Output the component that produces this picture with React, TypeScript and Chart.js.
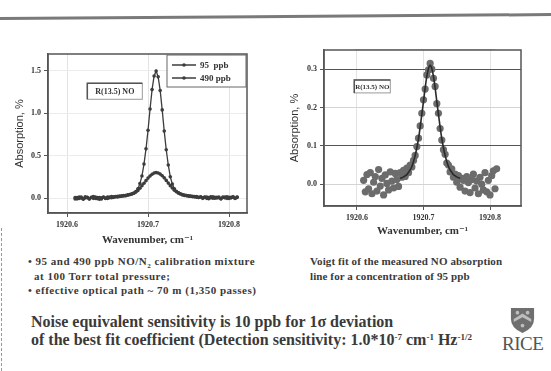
import React, { useEffect, useRef } from "react";
import { Chart, registerables } from "chart.js";
Chart.register(...registerables);

// ---------- data ----------
const WAVENUMBER = [
  1920.61, 1920.6125, 1920.615, 1920.6175, 1920.62, 1920.6225, 1920.625, 1920.6275, 1920.63, 1920.6325,
  1920.635, 1920.6375, 1920.64, 1920.6425, 1920.645, 1920.6475, 1920.65, 1920.6525, 1920.655, 1920.6575,
  1920.66, 1920.6625, 1920.665, 1920.6675, 1920.67, 1920.6725, 1920.675, 1920.6775, 1920.68, 1920.6825,
  1920.685, 1920.6875, 1920.69, 1920.6925, 1920.695, 1920.6975, 1920.7, 1920.7025, 1920.705, 1920.7075,
  1920.71, 1920.7125, 1920.715, 1920.7175, 1920.72, 1920.7225, 1920.725, 1920.7275, 1920.73, 1920.7325,
  1920.735, 1920.7375, 1920.74, 1920.7425, 1920.745, 1920.7475, 1920.75, 1920.7525, 1920.755, 1920.7575,
  1920.76, 1920.7625, 1920.765, 1920.7675, 1920.77, 1920.7725, 1920.775, 1920.7775, 1920.78, 1920.7825,
  1920.785, 1920.7875, 1920.79, 1920.7925, 1920.795, 1920.7975, 1920.8, 1920.8025, 1920.805, 1920.8075,
  1920.81,
];

const PPB95 = [
  -0.012, 0.004, -0.006, 0.01, -0.014, 0.002, 0.008, -0.01, 0.006, -0.004,
  0.012, -0.008, 0.004, -0.012, 0.009, 0.0, -0.006, 0.011, 0.004, 0.014,
  0.016, 0.012, 0.022, 0.02, 0.03, 0.028, 0.038, 0.042, 0.05, 0.058,
  0.072, 0.09, 0.115, 0.145, 0.175, 0.205, 0.235, 0.26, 0.28, 0.295,
  0.3, 0.296, 0.282, 0.262, 0.238, 0.208, 0.176, 0.146, 0.118, 0.092,
  0.074, 0.06, 0.05, 0.042, 0.036, 0.03, 0.026, 0.022, 0.02, 0.014,
  0.016, 0.008, 0.012, 0.002, 0.01, -0.004, 0.006, 0.014, -0.002, 0.008,
  0.0, 0.012, -0.008, 0.006, 0.01, -0.004, 0.009, 0.002, 0.013, -0.006,
  0.008,
];

const PPB490 = [
  0.005, -0.01, 0.012, 0.0, -0.008, 0.015, 0.004, -0.012, 0.008, 0.018,
  -0.004, 0.006, -0.015, 0.002, 0.012, -0.006, 0.01, 0.003, 0.016, 0.008,
  0.014, 0.02, 0.018, 0.026, 0.024, 0.03, 0.034, 0.04, 0.046, 0.057,
  0.075, 0.11, 0.17, 0.26, 0.4, 0.58, 0.8, 1.05, 1.28, 1.44,
  1.5, 1.43, 1.27, 1.04, 0.79, 0.57, 0.39, 0.25, 0.165, 0.11,
  0.078, 0.06, 0.047, 0.036, 0.03, 0.028, 0.022, 0.02, 0.014, 0.016,
  0.01, 0.006, 0.014, -0.004, 0.008, 0.012, -0.008, 0.004, 0.015, -0.002,
  0.009, 0.003, -0.01, 0.011, 0.002, 0.014, -0.006, 0.007, 0.012, -0.003,
  0.01,
];

const MEASURED95 = [
  0.01, -0.02, 0.025, -0.012, 0.03, -0.025, 0.005, 0.02, -0.018, 0.038,
  -0.005, 0.015, -0.028, 0.024, 0.002, -0.015, 0.032, 0.008, -0.01, 0.028,
  0.012, -0.006, 0.03, 0.018, 0.036, 0.02, 0.042, 0.03, 0.05, 0.045,
  0.062, 0.075, 0.098, 0.12, 0.152, 0.185, 0.22, 0.248, 0.285, 0.298,
  0.315, 0.3, 0.276, 0.255, 0.21, 0.185, 0.145, 0.115, 0.09, 0.078,
  0.055, 0.05, 0.032, 0.04, 0.018, 0.026, 0.005, 0.022, -0.008, 0.015,
  0.01, -0.018, 0.02, 0.004, -0.022, 0.012, 0.026, -0.01, 0.008, -0.025,
  0.018, 0.0, -0.015, 0.03, -0.02, 0.01, -0.028, 0.022, 0.035, -0.012,
  0.04,
];

const FIT_WAVENUMBER = [
  1920.665, 1920.6675, 1920.67, 1920.6725, 1920.675, 1920.6775, 1920.68, 1920.6825,
  1920.685, 1920.6875, 1920.69, 1920.6925, 1920.695, 1920.6975, 1920.7, 1920.7025, 1920.705, 1920.7075,
  1920.71, 1920.7125, 1920.715, 1920.7175, 1920.72, 1920.7225, 1920.725, 1920.7275, 1920.73, 1920.7325,
  1920.735, 1920.7375, 1920.74, 1920.7425, 1920.745, 1920.7475, 1920.75, 1920.7525, 1920.755,
];
const VOIGT_FIT = [
  0.015, 0.017, 0.019, 0.022, 0.025, 0.031, 0.037, 0.046,
  0.059, 0.075, 0.095, 0.119, 0.149, 0.182, 0.216, 0.251, 0.281, 0.302,
  0.31, 0.302, 0.281, 0.251, 0.216, 0.182, 0.149, 0.119, 0.095, 0.075,
  0.059, 0.046, 0.037, 0.031, 0.025, 0.022, 0.019, 0.017, 0.015,
];

const X_TICKS = [1920.6, 1920.7, 1920.8];
const LEFT_Y_TICKS = [0.0, 0.5, 1.0, 1.5];
const RIGHT_Y_TICKS = [0.0, 0.1, 0.2, 0.3];
const SERIES_LABELS = ["95  ppb", "490 ppb"];
const LINE_LABEL = "R(13.5) NO";
const X_TITLE = "Wavenumber, cm\u207B\u00B9";
const Y_TITLE = "Absorption, %";

const INK = "#333";
const SERIF = "'Liberation Serif', 'DejaVu Serif', serif";
const SANS = "'Liberation Sans', Arial, sans-serif";

function framePlugin(annot: any, legend: boolean) {
  return {
    id: "frameAndNotes",
    afterDraw(chart: any) {
      const { ctx, chartArea: a } = chart;
      ctx.save();
      ctx.strokeStyle = "#555";
      ctx.lineWidth = 1.5;
      ctx.strokeRect(a.left, a.top, a.right - a.left, a.bottom - a.top);

      // line label box
      const cx = chart.scales.x.getPixelForValue(annot.x);
      const cy = chart.scales.y.getPixelForValue(annot.y);
      const bx = cx - annot.w / 2, by = cy - annot.h / 2;
      ctx.fillStyle = "#fff";
      ctx.fillRect(bx, by, annot.w, annot.h);
      ctx.strokeStyle = "#999";
      ctx.lineWidth = 1;
      ctx.strokeRect(bx, by, annot.w, annot.h);
      ctx.strokeStyle = "#555";
      ctx.lineWidth = 1.5;
      ctx.beginPath();
      ctx.moveTo(bx, by + annot.h);
      ctx.lineTo(bx, by);
      ctx.lineTo(bx + annot.w, by);
      ctx.stroke();
      ctx.fillStyle = INK;
      ctx.font = `bold ${annot.fs}px ${SERIF}`;
      ctx.textAlign = "center";
      ctx.textBaseline = "middle";
      ctx.fillText(LINE_LABEL, cx, cy + 0.5);

      if (legend) {
        const w = 79, h = 32;
        const lx = a.right - w - 1, ly = a.top + 1;
        ctx.fillStyle = "#fff";
        ctx.fillRect(lx, ly, w, h);
        ctx.strokeStyle = "#666";
        ctx.lineWidth = 1;
        ctx.strokeRect(lx, ly, w, h);
        chart.data.datasets.forEach((ds: any, i: number) => {
          const ry = ly + 10 + i * 13;
          ctx.strokeStyle = ds.borderColor;
          ctx.lineWidth = 1.5;
          ctx.beginPath();
          ctx.moveTo(lx + 5, ry);
          ctx.lineTo(lx + 29, ry);
          ctx.stroke();
          ctx.fillStyle = ds.borderColor;
          ctx.beginPath();
          ctx.arc(lx + 17, ry, 1.8, 0, Math.PI * 2);
          ctx.fill();
          ctx.fillStyle = INK;
          ctx.font = `bold 9px ${SERIF}`;
          ctx.textAlign = "left";
          ctx.textBaseline = "middle";
          ctx.fillText(ds.label, lx + 33, ry + 0.5);
        });
      }
      ctx.restore();
    },
  };
}

function baseScales(opts: any) {
  return {
    x: {
      type: "linear",
      min: opts.xmin,
      max: opts.xmax,
      afterBuildTicks: (s: any) => {
        s.ticks = X_TICKS.map((v) => ({ value: v }));
      },
      afterFit: (s: any) => {
        s.height = opts.xh;
      },
      ticks: {
        autoSkip: false,
        maxRotation: 0,
        padding: 3,
        color: INK,
        font: { family: SERIF, size: 8, weight: "bold" },
        callback: (v: any) => Number(v).toFixed(1),
      },
      grid: { color: "#e3e3e3", tickLength: 4, tickColor: "#555" },
      border: { color: "#555", width: 1.5 },
      title: {
        display: true,
        text: X_TITLE,
        color: INK,
        font: { family: SERIF, size: 11, weight: "bold" },
        padding: { top: 0, bottom: opts.xtp },
      },
    },
    y: {
      type: "linear",
      min: opts.ymin,
      max: opts.ymax,
      afterBuildTicks: (s: any) => {
        s.ticks = opts.yticks.map((v: number) => ({ value: v }));
      },
      afterFit: (s: any) => {
        s.width = opts.yw;
      },
      ticks: {
        padding: 3,
        color: INK,
        font: { family: SERIF, size: 8, weight: "bold" },
        callback: (v: any) => Number(v).toFixed(1),
      },
      grid: { color: opts.ygrid, tickLength: 4, tickColor: "#555" },
      border: { color: "#555", width: 1.5 },
      title: {
        display: true,
        text: Y_TITLE,
        color: INK,
        font: { family: SANS, size: 11 },
        padding: { top: opts.ytp, bottom: 0 },
      },
    },
  };
}

function LeftChart() {
  const ref = useRef<HTMLCanvasElement>(null);
  useEffect(() => {
    const chart = new Chart(ref.current as HTMLCanvasElement, {
      type: "line",
      data: {
        datasets: [
          {
            label: SERIES_LABELS[0],
            data: WAVENUMBER.map((x, i) => ({ x, y: PPB95[i] })),
            borderColor: "#3c3c3c",
            backgroundColor: "#3c3c3c",
            borderWidth: 1.3,
            pointRadius: 1.8,
            pointBorderWidth: 0,
            tension: 0,
          },
          {
            label: SERIES_LABELS[1],
            data: WAVENUMBER.map((x, i) => ({ x, y: PPB490[i] })),
            borderColor: "#3c3c3c",
            backgroundColor: "#3c3c3c",
            borderWidth: 1.3,
            pointRadius: 1.8,
            pointBorderWidth: 0,
            tension: 0,
          },
        ],
      },
      options: {
        animation: false,
        responsive: false,
        layout: { padding: { top: 14, right: 15, left: 0, bottom: 0 } },
        plugins: { legend: { display: false }, tooltip: { enabled: false } },
        scales: baseScales({
          xmin: 1920.5765,
          xmax: 1920.8222,
          xh: 37,
          xtp: 3,
          ymin: -0.177,
          ymax: 1.7,
          yticks: LEFT_Y_TICKS,
          yw: 48,
          ytp: 13,
          ygrid: "#ececec",
        }) as any,
      },
      plugins: [framePlugin({ x: 1920.659, y: 1.26, w: 55, h: 16, fs: 8 }, true)],
    });
    return () => chart.destroy();
  }, []);
  return <canvas ref={ref} width={262} height={210} style={{ position: "absolute", left: 0, top: 40 }} />;
}

function RightChart() {
  const ref = useRef<HTMLCanvasElement>(null);
  useEffect(() => {
    const chart = new Chart(ref.current as HTMLCanvasElement, {
      type: "line",
      data: {
        datasets: [
          {
            label: "Voigt fit",
            data: FIT_WAVENUMBER.map((x, i) => ({ x, y: VOIGT_FIT[i] })),
            borderColor: "#2a2a2a",
            borderWidth: 1.6,
            pointRadius: 0,
            tension: 0.3,
            order: 0,
          },
          {
            label: "95 ppb measured",
            data: WAVENUMBER.map((x, i) => ({ x, y: MEASURED95[i] })),
            showLine: false,
            borderColor: "#6c6c6c",
            backgroundColor: "#6c6c6c",
            pointRadius: 3.6,
            pointBorderWidth: 0,
            order: 1,
          },
        ],
      },
      options: {
        animation: false,
        responsive: false,
        layout: { padding: { top: 10, right: 30, left: 0, bottom: 0 } },
        plugins: { legend: { display: false }, tooltip: { enabled: false } },
        scales: baseScales({
          xmin: 1920.5504,
          xmax: 1920.8466,
          xh: 34,
          xtp: 2,
          ymin: -0.057,
          ymax: 0.35,
          yticks: RIGHT_Y_TICKS,
          yw: 44,
          ytp: 8,
          ygrid: (c: any) =>
            c.tick && (Math.abs(c.tick.value - 0.3) < 1e-6 || Math.abs(c.tick.value - 0.1) < 1e-6)
              ? "#555"
              : "#d4d4d4",
        }) as any,
      },
      plugins: [framePlugin({ x: 1920.623, y: 0.255, w: 36, h: 13, fs: 7 }, false)],
    });
    return () => chart.destroy();
  }, []);
  return <canvas ref={ref} width={271} height={200} style={{ position: "absolute", left: 280, top: 40 }} />;
}

export default function App() {
  const cap: React.CSSProperties = {
    position: "absolute",
    fontFamily: SERIF,
    fontWeight: "bold",
    fontSize: 11,
    lineHeight: "14.5px",
    color: "#3a3a3a",
    whiteSpace: "nowrap",
  };
  const sup: React.CSSProperties = { fontSize: 9, verticalAlign: "5px", lineHeight: 0 };
  return (
    <div
      style={{
        position: "absolute",
        left: 0,
        top: 0,
        width: 551,
        height: 371,
        background: "#fff",
        overflow: "hidden",
        fontFamily: SERIF,
      }}
    >
      <div
        style={{
          position: "absolute",
          left: -2,
          top: 15,
          width: 556,
          height: 3,
          background: "#7a7a7a",
          transform: "rotate(-0.4deg)",
        }}
      />
      <div style={{ position: "absolute", left: 355, top: 49, width: 140, height: 1, background: "#ccc" }} />
      <div
        style={{
          position: "absolute",
          left: 1,
          top: 228,
          width: 0,
          height: 143,
          borderLeft: "1px dashed #999",
        }}
      />
      <LeftChart />
      <RightChart />

      <div style={{ ...cap, left: 28, top: 254, letterSpacing: 0.5 }}>
        • 95 and 490 ppb NO/N<sub style={{ fontSize: 7, lineHeight: 0 }}>2</sub> calibration mixture
        <br />
        <span style={{ paddingLeft: 6 }}>at 100 Torr total pressure;</span>
        <br />• effective optical path ~ 70 m (1,350 passes)
      </div>
      <div style={{ ...cap, left: 310, top: 254, letterSpacing: 0.1 }}>
        Voigt fit of the measured NO absorption
        <br />
        line for a concentration of 95 ppb
      </div>

      <div
        style={{
          position: "absolute",
          left: 31,
          top: 313,
          fontFamily: SERIF,
          fontWeight: "bold",
          fontSize: 16,
          lineHeight: "18px",
          color: "#3a3a3a",
          whiteSpace: "nowrap",
        }}
      >
        Noise equivalent sensitivity is 10 ppb for 1σ deviation
        <br />
        of the best fit coefficient (Detection sensitivity: 1.0*10
        <span style={sup}>-7</span> cm<span style={sup}>-1</span> Hz<span style={sup}>-1/2</span>
      </div>

      <svg style={{ position: "absolute", left: 510, top: 307 }} width={25} height={27} viewBox="0 0 27 29">
        <path d="M1,1 H26 V13 Q26,23 13.5,28 Q1,23 1,13 Z" fill="#6f6f6f" />
        <path d="M4,13 L13.5,7 L23,13 L23,16 L13.5,11 L4,16 Z" fill="#bdbdbd" />
        <circle cx="8" cy="6" r="2" fill="#bdbdbd" />
        <circle cx="19" cy="6" r="2" fill="#bdbdbd" />
        <circle cx="13.5" cy="20" r="2" fill="#bdbdbd" />
      </svg>
      <div
        style={{
          position: "absolute",
          left: 502,
          top: 334,
          fontFamily: SERIF,
          fontSize: 19,
          lineHeight: "20px",
          color: "#555",
          letterSpacing: -0.5,
        }}
      >
        RICE
      </div>
    </div>
  );
}
